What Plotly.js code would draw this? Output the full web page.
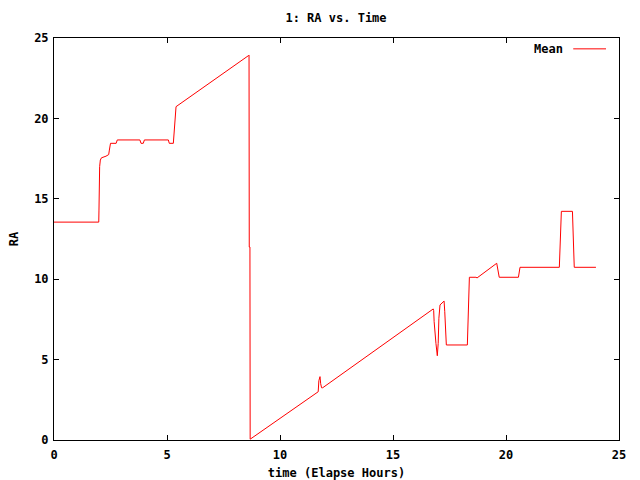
<!DOCTYPE html>
<html>
<head>
<meta charset="utf-8">
<script src="https://cdn.plot.ly/plotly-3.0.1.min.js"></script>
<style>html,body{margin:0;padding:0;background:#fff;}#chart{width:640px;height:480px;}</style>
</head>
<body>
<div id="chart"></div>
<script>
// Elapsed time (hours)
const timeHours = [
  0, 1.98, 1.99, 2.0, 2.02, 2.05, 2.1, 2.3, 2.42, 2.45, 2.5, 2.75, 2.8,
  3.8, 3.85, 3.95, 4.0, 5.06, 5.1, 5.28, 5.32, 5.36, 5.4,
  8.6, 8.63, 8.64, 8.67, 8.68,
  11.69, 11.72, 11.74, 11.77, 11.80, 11.84, 11.89,
  16.78, 16.8, 16.82, 16.9, 16.96, 17.0, 17.03, 17.08, 17.26, 17.29, 17.32, 17.36,
  18.29, 18.31, 18.34, 18.38, 18.67, 18.72, 19.59, 19.65, 19.70,
  20.55, 20.58, 20.62, 22.36, 22.39, 22.42, 22.45, 22.94, 22.96, 22.99, 23.02, 23.98
];
// Mean RA values
const raMean = [
  13.55, 13.55, 14.3, 15.8, 17.0, 17.41, 17.55, 17.65, 17.75, 18.03, 18.45, 18.45, 18.66,
  18.66, 18.45, 18.45, 18.66, 18.66, 18.45, 18.45, 19.07, 20.15, 20.73,
  23.9, 23.94, 12.0, 12.0, 0.05,
  3.0, 3.69, 3.94, 3.94, 3.5, 3.25, 3.25,
  8.15, 8.05, 7.36, 6.01, 5.24, 6.01, 7.57, 8.40, 8.64, 7.98, 6.59, 5.91,
  5.91, 6.98, 9.08, 10.12, 10.12, 10.08, 10.99, 10.57, 10.12,
  10.12, 10.3, 10.74, 10.74, 11.65, 13.37, 14.22, 14.22, 13.37, 11.65, 10.74, 10.74
];
const seriesName = "Mean";
const xTicks = [0, 5, 10, 15, 20, 25];
const yTicks = [0, 5, 10, 15, 20, 25];

const fontFam = "DejaVu Sans Mono, Liberation Mono, monospace";
const baseFont = {family: fontFam, size: 12, color: "#000", weight: "bold"};

const trace = {
  x: timeHours, y: raMean, type: "scatter", mode: "lines",
  name: seriesName, line: {color: "#ff0000", width: 1}, showlegend: false
};

const axisCommon = {
  showgrid: false, zeroline: false, showline: true, linecolor: "#000", linewidth: 1,
  mirror: "ticks", ticks: "inside", ticklen: 5, tickcolor: "#000", tickwidth: 1,
  tickfont: baseFont, automargin: false
};

const layout = {
  width: 640, height: 480,
  margin: {l: 54, r: 21, t: 38, b: 40},
  paper_bgcolor: "#fff", plot_bgcolor: "#fff",
  font: baseFont,
  title: {text: "1: RA vs. Time", font: baseFont, x: 0.525, xanchor: "center", y: 0.962, yanchor: "middle"},
  xaxis: Object.assign({}, axisCommon, {
    range: [0, 25], tickvals: xTicks, ticktext: xTicks.map(String),
    ticklabelstandoff: 4,
    title: {text: "time (Elapse Hours)", font: baseFont, standoff: 8}
  }),
  yaxis: Object.assign({}, axisCommon, {
    range: [0, 25], tickvals: yTicks, ticktext: yTicks.map(String),
    ticklabelstandoff: 2,
    title: {text: "RA", font: baseFont, standoff: 12}
  }),
  showlegend: false,
  annotations: [{
    xref: "paper", yref: "paper", x: 0.904, y: 0.973, xanchor: "right", yanchor: "middle",
    text: seriesName, showarrow: false, font: baseFont
  }],
  shapes: [{
    type: "line", xref: "paper", yref: "paper", x0: 0.919, x1: 0.977, y0: 0.973, y1: 0.973,
    line: {color: "#ff0000", width: 1}
  }]
};

Plotly.newPlot("chart", [trace], layout, {staticPlot: true, displayModeBar: false});
</script>
</body>
</html>
